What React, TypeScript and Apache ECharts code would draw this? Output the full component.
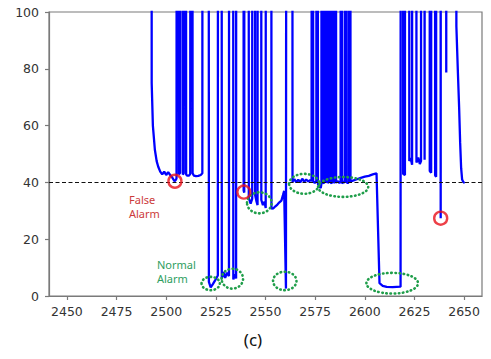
import React, { useEffect, useRef } from "react";
import * as echarts from "echarts";

const H = 1000; // off-scale samples (clipped above 100)

const xTickValues = [2450, 2475, 2500, 2525, 2550, 2575, 2600, 2625, 2650];

const lineX = [
  2492.4, 2492.7, 2493.3, 2494.3, 2495.2, 2496.0, 2497.0, 2498.0, 2499.0, 2500.0,
  2501.0, 2502.0, 2503.0, 2504.2, 2505.0, 2505.2, 2505.8, 2506.4, 2507.0, 2507.2,
  2507.8, 2508.4, 2508.6, 2508.85, 2509.45, 2510.05, 2510.6, 2511.5, 2512.1, 2512.7,
  2513.3, 2513.9, 2515.0, 2516.2, 2517.4, 2518.2, 2518.6, 2521.0, 2521.5, 2522.4,
  2523.5, 2524.7, 2526.0, 2526.4, 2527.6, 2528.0, 2528.8, 2529.7, 2530.6, 2531.6,
  2532.0, 2533.4, 2533.8, 2534.5, 2535.2, 2535.5, 2538.6, 2539.0, 2539.3, 2539.7,
  2541.2, 2541.6, 2542.5, 2543.3, 2543.7, 2544.4, 2544.8, 2545.4, 2546.0, 2546.4,
  2547.6, 2547.9, 2548.7, 2549.5, 2550.1, 2550.5, 2552.6, 2553.0, 2554.0, 2555.0,
  2556.0, 2557.0, 2558.0, 2558.8, 2559.4, 2560.3, 2561.2, 2563.2, 2563.6, 2564.5,
  2565.5, 2566.5, 2567.5, 2568.5, 2569.5, 2570.5, 2571.5, 2572.5, 2573.2, 2573.6,
  2574.0, 2574.8, 2575.6, 2576.0, 2576.4, 2577.2, 2577.8, 2578.15, 2578.5, 2578.85,
  2579.45, 2579.8, 2580.15, 2580.65, 2581.0, 2581.35, 2582.05, 2582.4, 2582.75, 2583.35,
  2583.7, 2584.05, 2584.85, 2585.2, 2585.55, 2586.5, 2587.2, 2587.8, 2588.2, 2588.6,
  2589.3, 2590.0, 2590.4, 2590.8, 2591.4, 2592.0, 2592.4, 2592.8, 2594.0, 2596.0,
  2598.0, 2600.0, 2602.0, 2604.0, 2605.9, 2607.4, 2609.0, 2611.0, 2614.0, 2618.0,
  2618.4, 2619.0, 2619.3, 2620.2, 2620.5, 2622.1, 2622.4, 2623.1, 2623.8, 2624.1,
  2625.7, 2626.0, 2626.9, 2627.7, 2628.3, 2628.6, 2629.8, 2630.1, 2630.5, 2632.4,
  2632.7, 2633.4, 2633.7, 2635.1, 2635.4, 2635.9, 2636.2, 2637.9, 2638.2, 2638.5,
  2640.7, 2641.0, 2641.3, 2645.7, 2646.1, 2646.8, 2647.5, 2648.0, 2648.5, 2649.0,
  2649.6, 2650.3,
];

const lineY = [
  H, 75, 60, 51.5, 47.5, 45.5, 43.8, 42.8, 43.8, 42.6,
  43.6, 42.6, 41.8, 40.4, 41.0, 41.5, H, 42.8, 43.4, 43.3,
  H, 42.8, 43.0, 43.2, H, 42.8, 42.4, 42.4, 43.0, H,
  43.2, 42.4, 42.2, 42.3, 42.6, 43.2, H, H, 5.0, 3.0,
  4.2, 5.6, 7.2, H, H, 6.2, 8.4, 6.4, 8.2, 7.0,
  H, H, 5.8, 7.6, 6.2, H, H, 37.2, 36.4, H,
  H, 34.5, 32.5, 34.2, H, H, 35.5, 33.5, 32.0, H,
  H, 33.8, 32.0, 33.2, 31.0, H, H, 30.8, 30.9, 31.6,
  32.2, 33.0, 33.6, 35.5, 37.0, 2.6, H, H, 40.2, 41.2,
  40.0, 41.0, 40.0, 41.3, 40.2, 41.0, 40.3, 40.8, 40.5, H,
  40.4, 39.8, 40.5, H, 39.5, 38.5, 38.0, 39.5, H, 40.2,
  39.6, H, 40.0, 40.4, H, 39.8, 40.3, H, 40.0, 39.6,
  H, 40.4, 39.8, H, 40.0, 40.4, 39.8, 40.2, H, 39.6,
  40.3, 40.0, H, 40.2, 39.7, 40.3, H, 40.3, 40.6, 41.1,
  41.6, 42.0, 42.3, 42.8, 43.2, 4.5, 3.6, 3.2, 3.1, 3.3,
  H, H, 43.0, 42.6, H, H, 47.5, 48.6, 46.2, H,
  H, 47.0, 48.8, 46.5, 47.5, H, H, 48.0, H, H,
  44.0, 43.4, H, H, 42.5, 42.0, H, H, 27.4, H,
  H, 78.7, H, H, 95, 80, 66, 54, 45, 41,
  40.1, 39.8,
];

// False alarms (red circles)
const falseAlarmX = [2504.4, 2539.1, 2638.2];
const falseAlarmY = [40.4, 36.6, 27.4];

// Normal alarms (green dotted ellipses): centre x, centre y, half width, half height (data units)
const normalCX = [2522.4, 2533.3, 2546.9, 2559.7, 2569.5, 2589.1, 2613.8];
const normalCY = [4.4, 6.1, 32.8, 5.3, 39.5, 38.4, 4.5];
const normalRX = [4.6, 5.4, 6.2, 5.9, 7.6, 12.6, 13.0];
const normalRY = [2.35, 3.5, 3.7, 3.25, 3.5, 3.5, 3.65];

const threshold = 40;

export default function App() {
  const ref = useRef<HTMLDivElement>(null);

  useEffect(() => {
    if (!ref.current) return;
    const chart = echarts.init(ref.current, undefined, { renderer: "svg" });
    const lineData = lineX.map((x, i) => [x, lineY[i]]);
    const circleData = falseAlarmX.map((x, i) => [x, falseAlarmY[i]]);
    const ellipseData = normalCX.map((x, i) => [x, normalCY[i], normalRX[i], normalRY[i]]);
    const axisGray = "#7a7a7a";
    const labelColor = "#333333";
    const tickFont = "DejaVu Sans";

    chart.setOption({
      animation: false,
      backgroundColor: "#ffffff",
      grid: {
        left: 49,
        right: 9,
        top: 12,
        bottom: 63,
        show: true,
        borderColor: axisGray,
        borderWidth: 1.2,
        backgroundColor: "transparent",
      },
      xAxis: {
        type: "value",
        min: 2441,
        max: 2659,
        axisLine: { show: true, lineStyle: { color: axisGray, width: 1.2 } },
        axisTick: {
          show: true,
          length: 4,
          customValues: xTickValues,
          lineStyle: { color: axisGray, width: 1.2 },
        },
        axisLabel: {
          customValues: xTickValues,
          formatter: (v: number) => String(v),
          color: labelColor,
          fontFamily: tickFont,
          fontSize: 12.5,
          margin: 9,
        },
        splitLine: { show: false },
      },
      yAxis: {
        type: "value",
        min: 0,
        max: 100,
        interval: 20,
        axisLine: { show: true, lineStyle: { color: axisGray, width: 1.2 } },
        axisTick: { show: true, length: 4, lineStyle: { color: axisGray, width: 1.2 } },
        axisLabel: {
          formatter: (v: number) => String(v),
          color: labelColor,
          fontFamily: tickFont,
          fontSize: 12.5,
          margin: 10,
        },
        splitLine: { show: false },
      },
      series: [
        {
          type: "line",
          data: lineData,
          showSymbol: false,
          clip: true,
          lineStyle: { color: "#0000ff", width: 2.3 },
          z: 3,
          markLine: {
            silent: true,
            symbol: ["none", "none"],
            label: { show: false },
            lineStyle: { color: "#111", type: [4, 2.5], width: 1 },
            data: [{ yAxis: threshold }],
            z: 4,
          },
        },
        {
          type: "custom",
          coordinateSystem: "cartesian2d",
          data: ellipseData,
          encode: { x: 0, y: 1 },
          z: 5,
          renderItem: (params: any, api: any) => {
            const c = api.coord([api.value(0), api.value(1)]);
            const s = api.size([api.value(2), api.value(3)]);
            return {
              type: "ellipse",
              shape: { cx: c[0], cy: c[1], rx: s[0], ry: s[1] },
              style: {
                fill: "none",
                stroke: "#1f9e4a",
                lineWidth: 2.6,
                lineDash: [0.5, 3.6],
                lineCap: "round",
              },
            };
          },
        },
        {
          type: "scatter",
          data: circleData,
          symbol: "circle",
          symbolSize: 13,
          z: 6,
          itemStyle: {
            color: "rgba(0,0,0,0)",
            borderColor: "#e8101a",
            borderWidth: 2.4,
          },
        },
      ],
      graphic: [
        {
          type: "text",
          x: 129,
          y: 199,
          style: { text: "False", fill: "#cc3b3b", font: '11px "Noto Sans"', textVerticalAlign: "middle" },
        },
        {
          type: "text",
          x: 129,
          y: 213.5,
          style: { text: "Alarm", fill: "#cc3b3b", font: '11px "Noto Sans"', textVerticalAlign: "middle" },
        },
        {
          type: "text",
          x: 157,
          y: 264,
          style: { text: "Normal", fill: "#2e9e5e", font: '11px "Noto Sans"', textVerticalAlign: "middle" },
        },
        {
          type: "text",
          x: 157,
          y: 278,
          style: { text: "Alarm", fill: "#2e9e5e", font: '11px "Noto Sans"', textVerticalAlign: "middle" },
        },
        {
          type: "text",
          x: 253,
          y: 339,
          style: {
            text: "(c)",
            fill: "#111",
            font: '17px "Noto Sans"',
            textAlign: "center",
            textVerticalAlign: "middle",
          },
        },
      ],
    });

    return () => chart.dispose();
  }, []);

  return (
    <div
      ref={ref}
      style={{ position: "fixed", left: 0, top: 0, width: 491, height: 359, background: "#fff" }}
    />
  );
}
